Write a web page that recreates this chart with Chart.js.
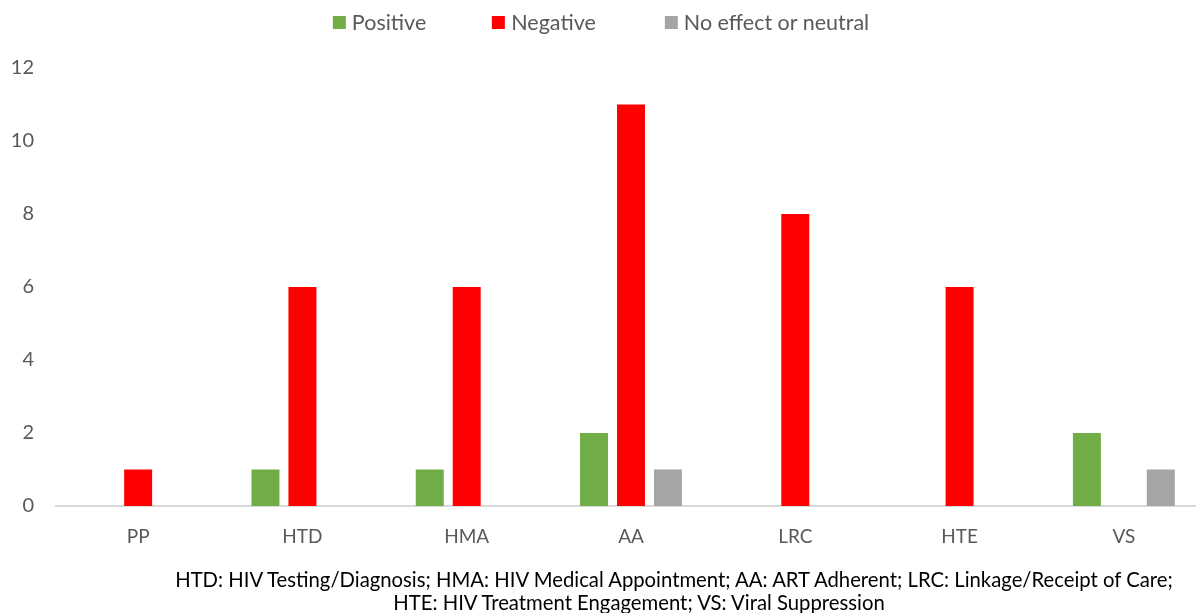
<!DOCTYPE html>
<html>
<head>
<meta charset="utf-8">
<script src="https://cdn.jsdelivr.net/npm/chart.js@4/dist/chart.umd.min.js"></script>
<style>
  html, body { margin: 0; padding: 0; background: #fff; overflow: hidden; }
  #wrap { position: relative; width: 1210px; height: 613px; }
  #chart { display: block; }
  .note {
    position: absolute; white-space: nowrap; transform: translateX(-50%);
    font-family: Lato, "Open Sans", sans-serif; font-size: 20.3px; color: #000;
    line-height: 24px;
  }
  #legend {
    position: absolute; left: 601px; top: 10px; transform: translateX(-50%);
    display: flex; align-items: center; white-space: nowrap;
    font-family: Lato, "Open Sans", sans-serif; font-size: 21.5px; color: #595959;
    line-height: 24px;
  }
  #legend .item { display: flex; align-items: center; margin: 0 33px; }
  #legend .item.wide { margin-right: 36px; }
  #legend .box { width: 13px; height: 13px; margin-right: 6px; }
</style>
</head>
<body>
<div id="wrap">
  <canvas id="chart" width="1210" height="613"></canvas>
  <div id="legend"></div>
  <div class="note" id="note1" style="left:674px; top:567px;"></div>
  <div class="note" id="note2" style="left:639px; top:590px;"></div>
</div>
<script>
// Outcome categories along the x axis
const categories = ["PP", "HTD", "HMA", "AA", "LRC", "HTE", "VS"];

// Number of findings per outcome, by direction of effect
const positive = [0, 1, 1, 2, 0, 0, 2];
const negative = [1, 6, 6, 11, 8, 6, 0];
const neutral  = [0, 0, 0, 1, 0, 0, 1];

const seriesNames = ["Positive", "Negative", "No effect or neutral"];
const seriesColors = ["#70AD47", "#FF0000", "#A5A5A5"];
const yTicks = [0, 2, 4, 6, 8, 10, 12];

const footnotes = [
  "HTD: HIV Testing/Diagnosis; HMA: HIV Medical Appointment; AA: ART Adherent; LRC: Linkage/Receipt of Care;",
  "HTE: HIV Treatment Engagement; VS: Viral Suppression"
];

document.getElementById("note1").textContent = footnotes[0];
document.getElementById("note2").textContent = footnotes[1];

// Legend row above the plot
const legendEl = document.getElementById("legend");
seriesNames.forEach((name, i) => {
  const item = document.createElement("div");
  item.className = i === 1 ? "item wide" : "item";
  const box = document.createElement("span");
  box.className = "box";
  box.style.background = seriesColors[i];
  const label = document.createElement("span");
  label.textContent = name;
  item.appendChild(box);
  item.appendChild(label);
  legendEl.appendChild(item);
});

const FONT = "Lato, 'Open Sans', sans-serif";
const TEXT = "#595959";

new Chart(document.getElementById("chart"), {
  type: "bar",
  data: {
    labels: categories,
    datasets: [
      { label: seriesNames[0], data: positive, backgroundColor: seriesColors[0] },
      { label: seriesNames[1], data: negative, backgroundColor: seriesColors[1] },
      { label: seriesNames[2], data: neutral,  backgroundColor: seriesColors[2] }
    ]
  },
  options: {
    responsive: false,
    animation: false,
    devicePixelRatio: 1,
    layout: { padding: { top: 68, left: 0, right: 4, bottom: 53 } },
    datasets: {
      bar: { categoryPercentage: 0.675, barPercentage: 0.757, borderWidth: 0 }
    },
    plugins: {
      legend: { display: false },
      tooltip: { enabled: false }
    },
    scales: {
      x: {
        grid: { display: false },
        border: { display: true, color: "#D9D9D9", width: 2 },
        ticks: { font: { family: FONT, size: 19 }, color: TEXT, padding: 11 },
        afterFit(scale) { scale.height = 54; }
      },
      y: {
        min: 0,
        max: 12,
        afterBuildTicks(scale) { scale.ticks = yTicks.map(v => ({ value: v })); },
        grid: { display: false, drawTicks: false },
        border: { display: false },
        ticks: { font: { family: FONT, size: 20 }, color: TEXT, padding: 22 },
        afterFit(scale) { scale.width = 56; }
      }
    }
  }
});
</script>
</body>
</html>
